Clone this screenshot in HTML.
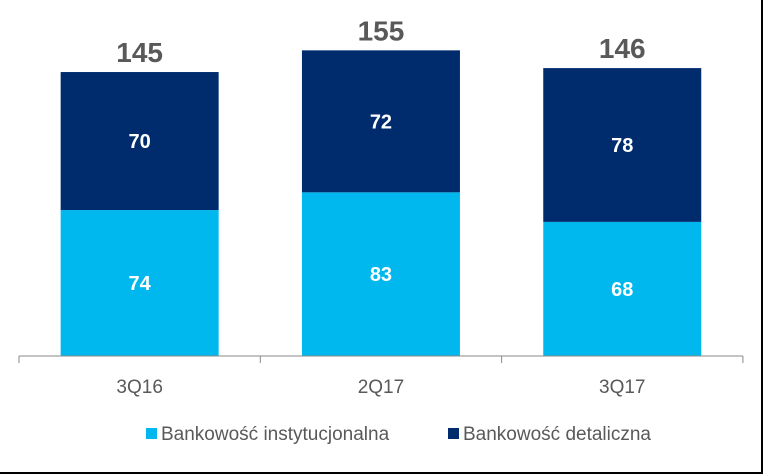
<!DOCTYPE html>
<html><head><meta charset="utf-8"><style>
body{margin:0;background:#fff;}
#c{position:relative;width:763px;height:474px;overflow:hidden;font-family:"Liberation Sans",Arial,sans-serif;}
</style></head><body>
<div id="c">
<svg id="s" width="763" height="474"></svg>
</div>
<script>
const categories=["3Q16","2Q17","3Q17"];
const instValues=[74,83,68];
const retailValues=[70,72,78];
const totalLabels=["145","155","146"];
const NS="http://www.w3.org/2000/svg";
const svg=document.getElementById('s');
const baseY=356, scale=1.972, left=19, slotW=241.3, barW=158;
function y(v){return baseY-v*scale;}
function xc(i){return left+slotW*(i+0.5);}
function mk(t,a,txt){const e=document.createElementNS(NS,t);for(const k in a)e.setAttribute(k,a[k]);if(txt!==undefined)e.textContent=txt;svg.appendChild(e);return e;}
categories.forEach((c,i)=>{
  const x=xc(i)-barW/2;
  const r1=mk('rect',{x:x,y:y(instValues[i]),width:barW,height:instValues[i]*scale,fill:'#00B8EE'});
  
  
  const top=instValues[i]+retailValues[i];
  const r2=mk('rect',{x:x,y:y(top),width:barW,height:retailValues[i]*scale,fill:'#002C6E'});
  
  
  const l1=mk('text',{x:xc(i),y:y(instValues[i]/2)+7,'text-anchor':'middle',fill:'#fff','font-size':20,'font-weight':'bold'},String(instValues[i]));
  
  
  const l2=mk('text',{x:xc(i),y:y(instValues[i]+retailValues[i]/2)+7,'text-anchor':'middle',fill:'#fff','font-size':20,'font-weight':'bold'},String(retailValues[i]));
  
  
  const t=mk('text',{x:xc(i),y:y(top)-10,'text-anchor':'middle',fill:'#595959','font-size':28,'font-weight':'bold'},totalLabels[i]);
  
  
  const cl=mk('text',{x:xc(i),y:393,'text-anchor':'middle',fill:'#595959','font-size':19},c);
  
  
});
const ax=mk('line',{x1:left,y1:baseY,x2:left+slotW*3,y2:baseY,stroke:'#888','stroke-width':1});


for(let i=0;i<=3;i++){
  const tk=mk('line',{x1:left+slotW*i,y1:baseY,x2:left+slotW*i,y2:baseY+7,stroke:'#888','stroke-width':1});
  
  
}
const lg=[["Bankowość instytucjonalna","#00B8EE",146],["Bankowość detaliczna","#002C6E",448]];
lg.forEach(l=>{
  const sq=mk('rect',{x:l[2],y:428,width:11,height:11,fill:l[1]});
  
  
  const tx=mk('text',{x:l[2]+15,y:440,fill:'#595959','font-size':19},l[0]);
  
  
});
const b1=mk('line',{x1:0,y1:473,x2:763,y2:473,stroke:'#000','stroke-width':2});


const b2=mk('line',{x1:762,y1:0,x2:762,y2:474,stroke:'#000','stroke-width':2});


</script>
</body></html>
